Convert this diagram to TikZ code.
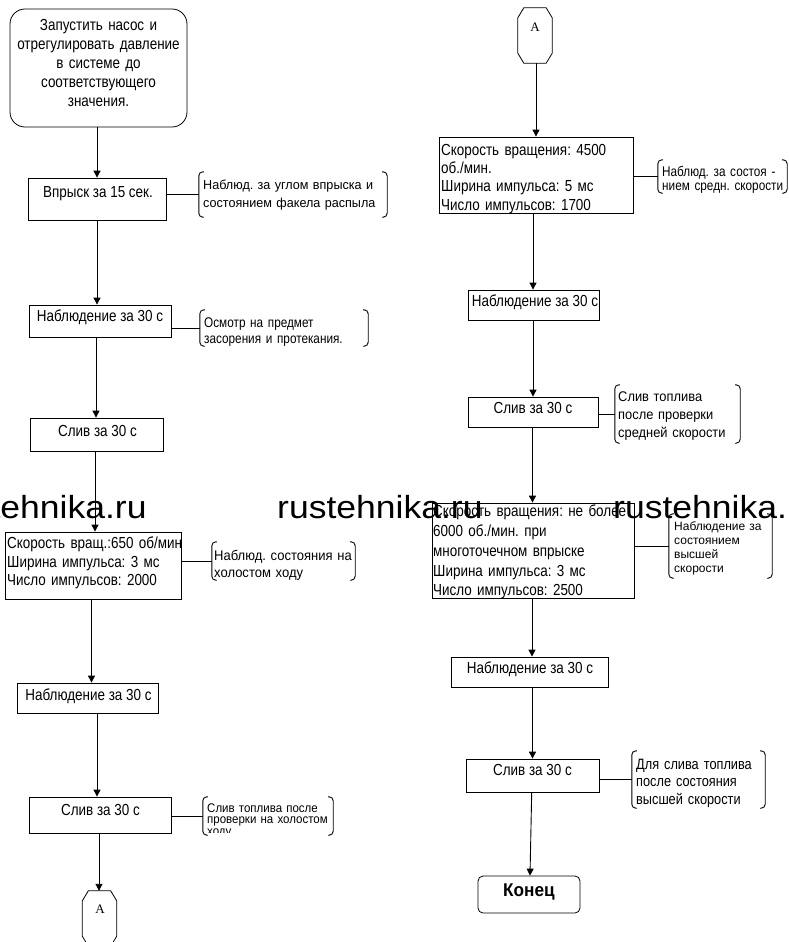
\documentclass[tikz,border=0pt]{standalone}
\usepackage{fontspec}
\setmainfont{Liberation Sans}
\newfontfamily\fN[FakeStretch=0.84]{Liberation Sans}
\newfontfamily\fAa[FakeStretch=0.97]{Liberation Sans}
\newfontfamily\fC[FakeStretch=0.93]{Liberation Sans}
\newfontfamily\fD[FakeStretch=0.92]{Liberation Sans}
\newfontfamily\fE[FakeStretch=0.85]{Liberation Sans}
\newfontfamily\fR{Liberation Sans}
\newfontfamily\fW[FakeStretch=1.11]{Liberation Sans}
\newfontfamily\fS{Liberation Serif}
\usetikzlibrary{arrows.meta}
\lineskiplimit=-50pt
\frenchspacing
\newcommand\jl[2]{\makebox[#1][s]{#2}}
\newcommand\drawbrackets[1]{%
  \draw[brk] ([xshift=5pt]#1.north west) -- (#1.north west) -- (#1.south west) -- ([xshift=5pt]#1.south west);
  \draw[brk] ([xshift=-5pt]#1.north east) -- (#1.north east) -- (#1.south east) -- ([xshift=-5pt]#1.south east);}
\newcommand\drawoct[1]{%
  \draw[ln] ([xshift=6pt]#1.north west) -- ([xshift=-6pt]#1.north east) -- ([yshift=-10pt]#1.north east)
    -- ([yshift=10pt]#1.south east) -- ([xshift=-6pt]#1.south east) -- ([xshift=6pt]#1.south west)
    -- ([yshift=10pt]#1.south west) -- ([yshift=-10pt]#1.north west) -- cycle;}
\tikzset{
  box/.style={draw, line width=0.8pt, inner sep=0pt},
  rbox/.style={box, rounded corners=#1},
  octframe/.style={inner sep=0pt, minimum width=34pt, minimum height=55pt},
  frame/.style={inner sep=0pt},
  mt/.style={inner sep=0pt, anchor=base, font=\fN\fontsize{16}{19}\selectfont},
  ml/.style={inner sep=0pt, anchor=base west, align=left, text width=240pt},
  atxt/.style={inner sep=0pt, font=\fS\fontsize{13}{13}\selectfont},
  arr/.style={line width=0.9pt, -{Triangle[length=7pt,width=7pt]}},
  ln/.style={line width=0.8pt},
  brk/.style={line width=0.9pt, rounded corners=4pt},
  wm/.style={inner sep=0pt, anchor=base west, font=\fW\fontsize{32}{32}\selectfont},
}
\begin{document}
\begin{tikzpicture}[x=1pt,y=-1pt]
\useasboundingbox (0,0) rectangle (789,942);
\clip (0,0) rectangle (789,942);
\fill[white] (0,0) rectangle (789,942);

% ---------- left column ----------
\node[rbox=15pt, minimum width=177pt, minimum height=118pt] (s) at (98.5,68) {};
\node[inner sep=0pt, anchor=base, text width=177pt, align=center,
  font=\fN\fontsize{16}{19}\selectfont] (st) at (98.5,30.5)
  {Запустить насос и\\отрегулировать давление\\в системе до\\соответствующего\\значения.};

\node[box, minimum width=138pt, minimum height=42pt] (b1) at (97,199) {};
\node[mt] (b1t) at (98,197) {Впрыск за 15 сек.};

\node[frame, minimum width=188pt, minimum height=45pt] (a1) at (293,194.5) {};
\node[ml, font=\fAa\fontsize{13}{18.5}\selectfont] (a1t) at (203,189)
  {\jl{179pt}{Наблюд. за углом впрыска и}\\состоянием факела распыла};

\node[box, minimum width=142pt, minimum height=32pt] (l2) at (100,321) {};
\node[mt] (l2t) at (100,321.7) {Наблюдение за 30 с};

\node[frame, minimum width=168pt, minimum height=36pt] (a2) at (284,328) {};
\node[ml, font=\fN\fontsize{14}{15.5}\selectfont] (a2t) at (204,327.5)
  {Осмотр на предмет\\засорения и протекания.};

\node[box, minimum width=133pt, minimum height=33pt] (l3) at (96.5,434.5) {};
\node[mt] (l3t) at (97.5,436) {Слив за 30 с};

\node[box, minimum width=176pt, minimum height=67pt] (l4) at (93,565.5) {};
\node[ml, font=\fN\fontsize{16}{18.8}\selectfont] (l4t) at (7,548.3)
  {Скорость вращ.:650 об/мин\\Ширина импульса: 3 мс\\Число импульсов: 2000};

\node[frame, minimum width=143pt, minimum height=38pt] (a3) at (283.5,561) {};
\node[ml, font=\fC\fontsize{14}{17}\selectfont] (a3t) at (214,560)
  {\jl{139pt}{Наблюд. состояния на}\\холостом ходу};

\node[box, minimum width=141pt, minimum height=30pt] (l5) at (87.5,698) {};
\node[mt] (l5t) at (88.5,700) {Наблюдение за 30 с};

\node[box, minimum width=142pt, minimum height=36pt] (l6) at (100,815) {};
\node[mt] (l6t) at (100.5,815) {Слив за 30 с};

\node[frame, minimum width=130pt, minimum height=38pt] (a4) at (268,816) {};
\begin{scope}
\clip (203,795) rectangle (335,832.5);
\node[ml, font=\fD\fontsize{12.5}{11.6}\selectfont] (a4t) at (207,812)
  {\jl{125pt}{Слив топлива после}\\\jl{125pt}{проверки на холостом}\\ходу};
\end{scope}

\node[octframe] (ob) at (99.5,918.5) {};
\drawoct{ob}
\node[atxt] (obt) at (100,909) {A};

% ---------- right column ----------
\node[octframe] (oa) at (535,35.5) {};
\drawoct{oa}
\node[atxt] (oat) at (535,27) {A};

\node[box, minimum width=194pt, minimum height=76pt] (r1) at (536,175) {};
\node[ml, font=\fN\fontsize{16}{18.4}\selectfont] (r1t) at (441,155)
  {Скорость вращения: 4500\\об./мин.\\Ширина импульса: 5 мс\\Число импульсов: 1700};

\node[frame, minimum width=129pt, minimum height=33pt] (ar1) at (722.5,176.5) {};
\node[ml, font=\fN\fontsize{14}{14.7}\selectfont] (ar1t) at (662,176)
  {Наблюд. за состоя -\\нием средн. скорости};

\node[box, minimum width=131pt, minimum height=30pt] (r2) at (533.5,305) {};
\node[mt] (r2t) at (535,306.7) {Наблюдение за 30 с};

\node[box, minimum width=130pt, minimum height=30pt] (r3) at (533,412) {};
\node[mt] (r3t) at (533,413.3) {Слив за 30 с};

\node[frame, minimum width=125pt, minimum height=58pt] (ar2) at (677.5,414) {};
\node[ml, font=\fD\fontsize{14}{18}\selectfont] (ar2t) at (618,401.5)
  {\jl{117pt}{Слив топлива}\\\jl{117pt}{после проверки}\\средней скорости};

\node[box, minimum width=202pt, minimum height=95pt] (r4) at (533,550.5) {};
\node[ml, font=\fN\fontsize{16}{19.8}\selectfont] (r4t) at (433,516.7)
  {Скорость вращения: не более\\6000 об./мин. при\\многоточечном впрыске\\Ширина импульса: 3 мс\\Число импульсов: 2500};

\node[frame, minimum width=103pt, minimum height=64pt] (ar3) at (720.5,546) {};
\node[ml, font=\fR\fontsize{12}{14.2}\selectfont] (ar3t) at (674,530)
  {Наблюдение за\\состоянием\\высшей\\скорости};

\node[box, minimum width=157pt, minimum height=30pt] (r5) at (529.5,672) {};
\node[mt] (r5t) at (530,673.3) {Наблюдение за 30 с};

\node[box, minimum width=133pt, minimum height=33pt] (r6) at (532.5,775.5) {};
\node[mt] (r6t) at (532.5,775) {Слив за 30 с};

\node[frame, minimum width=133pt, minimum height=57pt] (ar4) at (698.5,779.5) {};
\node[ml, font=\fE\fontsize{15}{17.5}\selectfont] (ar4t) at (636,769)
  {Для слива топлива\\после состояния\\высшей скорости};

\node[rbox=5pt, minimum width=102pt, minimum height=37pt] (end) at (529,894.5) {};
\node[inner sep=0pt, anchor=base, font=\fC\bfseries\fontsize{18.5}{20}\selectfont] (endt) at (529,896.7) {Конец};

% ---------- brackets ----------
\drawbrackets{a1}
\drawbrackets{a2}
\drawbrackets{a3}
\drawbrackets{a4}
\drawbrackets{ar1}
\drawbrackets{ar2}
\drawbrackets{ar3}
\drawbrackets{ar4}

% ---------- connectors ----------
\draw[arr] ([xshift=-1.5pt]s.south) -- (b1.north);
\draw[arr] (b1.south) -- ([xshift=-3pt]l2.north);
\draw[arr] ([xshift=-4pt]l2.south) -- ([xshift=-0.5pt]l3.north);
\draw[arr] ([xshift=-1.5pt]l3.south) -- ([xshift=2pt]l4.north);
\draw[arr] ([xshift=-1.5pt]l4.south) -- ([xshift=4pt]l5.north);
\draw[arr] ([xshift=9.5pt]l5.south) -- ([xshift=-3pt]l6.north);
\draw[arr] ([xshift=-1pt]l6.south) -- ([xshift=-0.5pt]ob.north);

\draw[arr] ([xshift=1pt]oa.south) -- (r1.north);
\draw[arr] ([xshift=-3pt]r1.south) -- ([xshift=-0.5pt]r2.north);
\draw[arr] ([xshift=-0.5pt]r2.south) -- (r3.north);
\draw[arr] ([xshift=-0.5pt]r3.south) -- ([xshift=-0.5pt]r4.north);
\draw[arr] ([xshift=-1pt]r4.south) -- ([xshift=2.5pt]r5.north);
\draw[arr] ([xshift=3pt]r5.south) -- (r6.north);
\draw[arr] ([xshift=-0.8pt]r6.south) -- ([xshift=1pt]end.north);

\draw[ln] (b1.east |- a1.west) -- (a1.west);
\draw[ln] (l2.east |- a2.west) -- (a2.west);
\draw[ln] (l4.east |- a3.west) -- (a3.west);
\draw[ln] (l6.east |- a4.west) -- (a4.west);
\draw[ln] (r1.east |- ar1.west) -- (ar1.west);
\draw[ln] (r3.east |- ar2.west) -- (ar2.west);
\draw[ln] (r4.east |- ar3.west) -- (ar3.west);
\draw[ln] (r6.east |- ar4.west) -- (ar4.west);

% ---------- watermark ----------
\node[wm] (w1) at (-59,518) {rustehnika.ru};
\node[wm] (w2) at (277,518) {rustehnika.ru};
\node[wm] (w3) at (613,518) {rustehnika.ru};
\end{tikzpicture}
\end{document}
